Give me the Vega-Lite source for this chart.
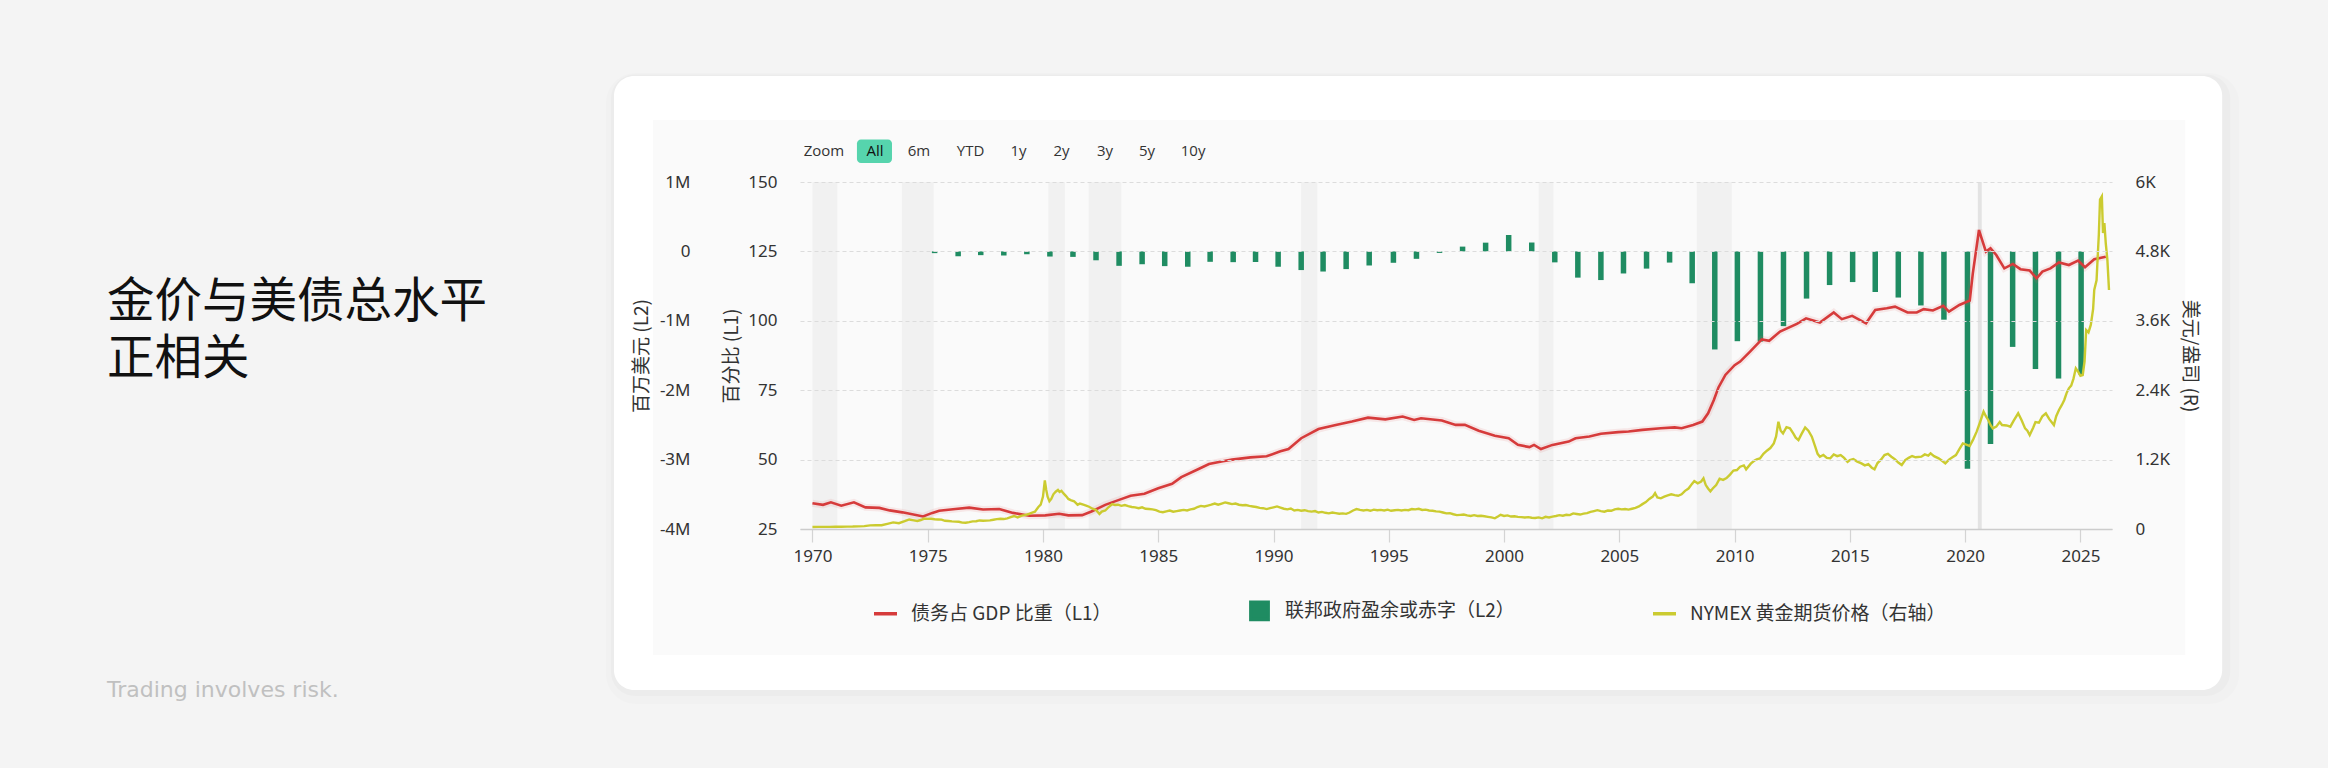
{
  "$schema": "https://vega.github.io/schema/vega-lite/v6.json",
  "width": 1312,
  "height": 347,
  "autosize": {"type": "none"},
  "padding": {"left": 800, "top": 182, "right": 216, "bottom": 239},
  "background": "#f4f4f4",
  "config": {
    "view": {"stroke": null},
    "axis": {
      "labelFont": "Noto Sans",
      "labelFontSize": 17,
      "labelColor": "#333333",
      "titleFont": "Noto Sans CJK SC",
      "titleFontSize": 19,
      "titleFontWeight": "normal",
      "titleColor": "#333333",
      "domain": false,
      "ticks": false,
      "grid": false
    },
    "axisX": {
      "domain": true,
      "domainColor": "#cccccc",
      "domainWidth": 1.5,
      "ticks": true,
      "tickColor": "#d4d4d4",
      "tickSize": 13,
      "tickWidth": 1.2,
      "labelPadding": 6
    },
    "legend": {"zindex": 1}
  },
  "datasets": {
    "recess": [
      {"s": 1970.0, "e": 1971.08},
      {"s": 1973.88, "e": 1975.26},
      {"s": 1980.23, "e": 1980.95},
      {"s": 1981.98, "e": 1983.4},
      {"s": 1991.2, "e": 1991.9},
      {"s": 2001.5, "e": 2002.14},
      {"s": 2008.36, "e": 2009.88},
      {"s": 2020.55, "e": 2020.72}
    ],
    "deficit": [
      {"t": 1975.3, "v": -25000}, {"t": 1976.32, "v": -70000}, {"t": 1977.3, "v": -54000},
      {"t": 1978.3, "v": -59000}, {"t": 1979.3, "v": -41000}, {"t": 1980.3, "v": -74000},
      {"t": 1981.3, "v": -79000}, {"t": 1982.3, "v": -128000}, {"t": 1983.3, "v": -208000},
      {"t": 1984.3, "v": -185000}, {"t": 1985.28, "v": -212000}, {"t": 1986.28, "v": -221000},
      {"t": 1987.25, "v": -150000}, {"t": 1988.25, "v": -155000}, {"t": 1989.22, "v": -153000},
      {"t": 1990.2, "v": -221000}, {"t": 1991.2, "v": -269000}, {"t": 1992.15, "v": -290000},
      {"t": 1993.15, "v": -255000}, {"t": 1994.15, "v": -203000}, {"t": 1995.2, "v": -164000},
      {"t": 1996.2, "v": -107000}, {"t": 1997.2, "v": -22000}, {"t": 1998.2, "v": 69000},
      {"t": 1999.2, "v": 126000}, {"t": 2000.2, "v": 236000}, {"t": 2001.2, "v": 128000},
      {"t": 2002.2, "v": -158000}, {"t": 2003.2, "v": -378000}, {"t": 2004.2, "v": -413000},
      {"t": 2005.18, "v": -318000}, {"t": 2006.18, "v": -248000}, {"t": 2007.18, "v": -161000},
      {"t": 2008.16, "v": -459000}, {"t": 2009.14, "v": -1413000}, {"t": 2010.12, "v": -1294000},
      {"t": 2011.12, "v": -1300000}, {"t": 2012.12, "v": -1077000}, {"t": 2013.12, "v": -680000},
      {"t": 2014.12, "v": -485000}, {"t": 2015.12, "v": -442000}, {"t": 2016.1, "v": -585000},
      {"t": 2017.1, "v": -665000}, {"t": 2018.08, "v": -779000}, {"t": 2019.08, "v": -984000},
      {"t": 2020.1, "v": -3132000}, {"t": 2021.1, "v": -2775000}, {"t": 2022.06, "v": -1376000},
      {"t": 2023.05, "v": -1695000}, {"t": 2024.05, "v": -1832000}, {"t": 2025.03, "v": -1775000}
    ],
    "debt": [
      {"t": 1970.0, "v": 34.3}, {"t": 1970.46, "v": 33.7}, {"t": 1970.8, "v": 34.6}, {"t": 1971.25, "v": 33.4},
      {"t": 1971.8, "v": 34.6}, {"t": 1972.3, "v": 32.8}, {"t": 1972.9, "v": 32.6}, {"t": 1973.35, "v": 31.7},
      {"t": 1973.9, "v": 31.0}, {"t": 1974.8, "v": 29.5}, {"t": 1975.2, "v": 30.8}, {"t": 1975.5, "v": 31.6},
      {"t": 1976.2, "v": 32.2}, {"t": 1976.8, "v": 32.7}, {"t": 1977.4, "v": 32.0}, {"t": 1978.1, "v": 32.2},
      {"t": 1978.7, "v": 30.8}, {"t": 1979.4, "v": 29.8}, {"t": 1980.1, "v": 29.9}, {"t": 1980.7, "v": 30.5},
      {"t": 1981.1, "v": 29.9}, {"t": 1981.7, "v": 30.0}, {"t": 1982.1, "v": 31.3}, {"t": 1982.7, "v": 33.7},
      {"t": 1983.3, "v": 35.5}, {"t": 1983.8, "v": 37.0}, {"t": 1984.4, "v": 37.7}, {"t": 1985.0, "v": 39.7},
      {"t": 1985.6, "v": 41.3}, {"t": 1986.0, "v": 43.7}, {"t": 1986.75, "v": 46.6}, {"t": 1987.2, "v": 48.4},
      {"t": 1987.8, "v": 49.4}, {"t": 1988.2, "v": 50.0}, {"t": 1989.0, "v": 50.8}, {"t": 1989.7, "v": 51.2},
      {"t": 1990.3, "v": 53.0}, {"t": 1990.65, "v": 53.8}, {"t": 1991.2, "v": 57.7}, {"t": 1991.95, "v": 61.0},
      {"t": 1992.7, "v": 62.5}, {"t": 1993.4, "v": 63.7}, {"t": 1994.1, "v": 65.1}, {"t": 1994.85, "v": 64.5},
      {"t": 1995.6, "v": 65.5}, {"t": 1996.1, "v": 64.3}, {"t": 1996.4, "v": 64.9}, {"t": 1997.3, "v": 64.1},
      {"t": 1997.9, "v": 62.5}, {"t": 1998.3, "v": 62.5}, {"t": 1998.9, "v": 60.4}, {"t": 1999.6, "v": 58.6},
      {"t": 2000.2, "v": 57.7}, {"t": 2000.6, "v": 55.3}, {"t": 2001.1, "v": 54.5}, {"t": 2001.3, "v": 55.3},
      {"t": 2001.6, "v": 53.8}, {"t": 2002.1, "v": 55.3}, {"t": 2002.8, "v": 56.5}, {"t": 2003.1, "v": 57.7},
      {"t": 2003.7, "v": 58.3}, {"t": 2004.2, "v": 59.3}, {"t": 2004.95, "v": 59.9}, {"t": 2005.4, "v": 60.1},
      {"t": 2006.0, "v": 60.7}, {"t": 2006.8, "v": 61.3}, {"t": 2007.4, "v": 61.6}, {"t": 2007.7, "v": 61.3},
      {"t": 2008.2, "v": 62.5}, {"t": 2008.6, "v": 63.7}, {"t": 2008.85, "v": 66.7}, {"t": 2009.1, "v": 71.5},
      {"t": 2009.3, "v": 76.0}, {"t": 2009.6, "v": 80.5}, {"t": 2010.0, "v": 84.0}, {"t": 2010.24, "v": 85.3},
      {"t": 2010.67, "v": 88.9}, {"t": 2011.18, "v": 93.3}, {"t": 2011.5, "v": 92.8}, {"t": 2011.97, "v": 96.1},
      {"t": 2012.7, "v": 98.9}, {"t": 2013.1, "v": 100.9}, {"t": 2013.7, "v": 99.4}, {"t": 2014.3, "v": 103.0},
      {"t": 2014.65, "v": 100.6}, {"t": 2015.1, "v": 101.8}, {"t": 2015.7, "v": 99.1}, {"t": 2016.1, "v": 103.9},
      {"t": 2016.6, "v": 104.5}, {"t": 2016.96, "v": 105.1}, {"t": 2017.5, "v": 103.0}, {"t": 2017.9, "v": 103.0},
      {"t": 2018.2, "v": 104.2}, {"t": 2018.6, "v": 103.7}, {"t": 2019.05, "v": 105.4}, {"t": 2019.3, "v": 103.3},
      {"t": 2019.75, "v": 105.7}, {"t": 2020.2, "v": 107.3}, {"t": 2020.33, "v": 116.9}, {"t": 2020.6, "v": 132.7},
      {"t": 2020.9, "v": 124.9}, {"t": 2021.1, "v": 126.1}, {"t": 2021.35, "v": 123.7}, {"t": 2021.7, "v": 118.9},
      {"t": 2022.07, "v": 120.5}, {"t": 2022.4, "v": 118.6}, {"t": 2022.8, "v": 118.1}, {"t": 2023.1, "v": 115.3},
      {"t": 2023.35, "v": 117.7}, {"t": 2023.7, "v": 118.9}, {"t": 2024.07, "v": 121.0}, {"t": 2024.5, "v": 120.1},
      {"t": 2024.9, "v": 121.7}, {"t": 2025.2, "v": 119.3}, {"t": 2025.6, "v": 122.2}, {"t": 2026.1, "v": 123.1}
    ],
    "gold": [
      {"t": 1970.0, "v": 35}, {"t": 1970.25, "v": 36}, {"t": 1970.5, "v": 36}, {"t": 1970.75, "v": 37},
      {"t": 1971.0, "v": 38}, {"t": 1971.25, "v": 40}, {"t": 1971.5, "v": 41}, {"t": 1971.75, "v": 42},
      {"t": 1972.0, "v": 46}, {"t": 1972.25, "v": 49}, {"t": 1972.5, "v": 62}, {"t": 1972.75, "v": 64},
      {"t": 1973.0, "v": 66}, {"t": 1973.25, "v": 90}, {"t": 1973.5, "v": 115}, {"t": 1973.75, "v": 100},
      {"t": 1974.0, "v": 135}, {"t": 1974.2, "v": 165}, {"t": 1974.4, "v": 150}, {"t": 1974.55, "v": 140},
      {"t": 1974.7, "v": 155}, {"t": 1974.85, "v": 180}, {"t": 1975.0, "v": 175}, {"t": 1975.15, "v": 178},
      {"t": 1975.3, "v": 168}, {"t": 1975.45, "v": 165}, {"t": 1975.6, "v": 162}, {"t": 1975.75, "v": 142},
      {"t": 1975.9, "v": 138}, {"t": 1976.05, "v": 132}, {"t": 1976.2, "v": 128}, {"t": 1976.35, "v": 125},
      {"t": 1976.5, "v": 110}, {"t": 1976.65, "v": 108}, {"t": 1976.8, "v": 118}, {"t": 1976.95, "v": 132},
      {"t": 1977.1, "v": 135}, {"t": 1977.25, "v": 148}, {"t": 1977.4, "v": 142}, {"t": 1977.55, "v": 145},
      {"t": 1977.7, "v": 150}, {"t": 1977.85, "v": 160}, {"t": 1978.0, "v": 170}, {"t": 1978.15, "v": 178},
      {"t": 1978.3, "v": 172}, {"t": 1978.45, "v": 185}, {"t": 1978.6, "v": 205}, {"t": 1978.75, "v": 225},
      {"t": 1978.9, "v": 200}, {"t": 1979.05, "v": 228}, {"t": 1979.2, "v": 240}, {"t": 1979.35, "v": 255},
      {"t": 1979.5, "v": 280}, {"t": 1979.65, "v": 300}, {"t": 1979.8, "v": 380}, {"t": 1979.9, "v": 420},
      {"t": 1980.0, "v": 560}, {"t": 1980.08, "v": 840}, {"t": 1980.14, "v": 680}, {"t": 1980.2, "v": 560},
      {"t": 1980.28, "v": 480}, {"t": 1980.36, "v": 520}, {"t": 1980.45, "v": 600}, {"t": 1980.55, "v": 645},
      {"t": 1980.65, "v": 675}, {"t": 1980.72, "v": 640}, {"t": 1980.8, "v": 660}, {"t": 1980.9, "v": 610},
      {"t": 1981.0, "v": 570}, {"t": 1981.1, "v": 520}, {"t": 1981.2, "v": 500}, {"t": 1981.35, "v": 480},
      {"t": 1981.5, "v": 420}, {"t": 1981.6, "v": 440}, {"t": 1981.75, "v": 420}, {"t": 1981.9, "v": 400},
      {"t": 1982.0, "v": 385}, {"t": 1982.15, "v": 350}, {"t": 1982.3, "v": 330}, {"t": 1982.45, "v": 260},
      {"t": 1982.55, "v": 300}, {"t": 1982.7, "v": 320}, {"t": 1982.85, "v": 380}, {"t": 1983.0, "v": 430},
      {"t": 1983.12, "v": 415}, {"t": 1983.25, "v": 420}, {"t": 1983.4, "v": 400}, {"t": 1983.55, "v": 415},
      {"t": 1983.7, "v": 395}, {"t": 1983.85, "v": 380}, {"t": 1984.0, "v": 375}, {"t": 1984.15, "v": 360},
      {"t": 1984.3, "v": 375}, {"t": 1984.45, "v": 350}, {"t": 1984.6, "v": 345}, {"t": 1984.75, "v": 340},
      {"t": 1984.9, "v": 325}, {"t": 1985.05, "v": 300}, {"t": 1985.2, "v": 290}, {"t": 1985.35, "v": 305},
      {"t": 1985.5, "v": 320}, {"t": 1985.65, "v": 300}, {"t": 1985.8, "v": 310}, {"t": 1985.95, "v": 320},
      {"t": 1986.1, "v": 330}, {"t": 1986.25, "v": 320}, {"t": 1986.4, "v": 340}, {"t": 1986.55, "v": 350},
      {"t": 1986.7, "v": 380}, {"t": 1986.85, "v": 400}, {"t": 1987.0, "v": 390}, {"t": 1987.15, "v": 405},
      {"t": 1987.3, "v": 420}, {"t": 1987.45, "v": 440}, {"t": 1987.6, "v": 420}, {"t": 1987.75, "v": 440},
      {"t": 1987.9, "v": 460}, {"t": 1988.05, "v": 445}, {"t": 1988.2, "v": 430}, {"t": 1988.35, "v": 440},
      {"t": 1988.5, "v": 420}, {"t": 1988.65, "v": 410}, {"t": 1988.8, "v": 415}, {"t": 1988.95, "v": 400},
      {"t": 1989.1, "v": 390}, {"t": 1989.25, "v": 380}, {"t": 1989.4, "v": 365}, {"t": 1989.55, "v": 360},
      {"t": 1989.7, "v": 345}, {"t": 1989.85, "v": 360}, {"t": 1990.0, "v": 375}, {"t": 1990.15, "v": 390},
      {"t": 1990.3, "v": 370}, {"t": 1990.45, "v": 350}, {"t": 1990.6, "v": 340}, {"t": 1990.75, "v": 355},
      {"t": 1990.9, "v": 320}, {"t": 1991.05, "v": 330}, {"t": 1991.2, "v": 315}, {"t": 1991.35, "v": 325},
      {"t": 1991.5, "v": 310}, {"t": 1991.65, "v": 300}, {"t": 1991.8, "v": 310}, {"t": 1991.95, "v": 285},
      {"t": 1992.1, "v": 295}, {"t": 1992.25, "v": 280}, {"t": 1992.4, "v": 270}, {"t": 1992.55, "v": 285},
      {"t": 1992.7, "v": 275}, {"t": 1992.85, "v": 265}, {"t": 1993.0, "v": 270}, {"t": 1993.15, "v": 262},
      {"t": 1993.3, "v": 285}, {"t": 1993.45, "v": 320}, {"t": 1993.6, "v": 345}, {"t": 1993.75, "v": 330},
      {"t": 1993.9, "v": 320}, {"t": 1994.05, "v": 330}, {"t": 1994.2, "v": 315}, {"t": 1994.35, "v": 335},
      {"t": 1994.5, "v": 325}, {"t": 1994.65, "v": 330}, {"t": 1994.8, "v": 320}, {"t": 1994.95, "v": 335},
      {"t": 1995.1, "v": 315}, {"t": 1995.25, "v": 325}, {"t": 1995.4, "v": 330}, {"t": 1995.55, "v": 320},
      {"t": 1995.7, "v": 330}, {"t": 1995.85, "v": 325}, {"t": 1996.0, "v": 345}, {"t": 1996.15, "v": 340},
      {"t": 1996.3, "v": 350}, {"t": 1996.45, "v": 330}, {"t": 1996.6, "v": 335}, {"t": 1996.75, "v": 320},
      {"t": 1996.9, "v": 315}, {"t": 1997.05, "v": 305}, {"t": 1997.2, "v": 300}, {"t": 1997.35, "v": 285},
      {"t": 1997.5, "v": 270}, {"t": 1997.65, "v": 275}, {"t": 1997.8, "v": 255}, {"t": 1997.95, "v": 240},
      {"t": 1998.1, "v": 245}, {"t": 1998.25, "v": 250}, {"t": 1998.4, "v": 235}, {"t": 1998.55, "v": 225},
      {"t": 1998.7, "v": 240}, {"t": 1998.85, "v": 225}, {"t": 1999.0, "v": 230}, {"t": 1999.15, "v": 220},
      {"t": 1999.3, "v": 210}, {"t": 1999.45, "v": 200}, {"t": 1999.6, "v": 185}, {"t": 1999.75, "v": 220},
      {"t": 1999.85, "v": 245}, {"t": 2000.0, "v": 225}, {"t": 2000.15, "v": 235}, {"t": 2000.3, "v": 215},
      {"t": 2000.45, "v": 220}, {"t": 2000.6, "v": 210}, {"t": 2000.75, "v": 205}, {"t": 2000.9, "v": 200},
      {"t": 2001.05, "v": 205}, {"t": 2001.2, "v": 195}, {"t": 2001.35, "v": 190}, {"t": 2001.5, "v": 200},
      {"t": 2001.65, "v": 185}, {"t": 2001.8, "v": 210}, {"t": 2001.95, "v": 200}, {"t": 2002.1, "v": 215},
      {"t": 2002.25, "v": 225}, {"t": 2002.4, "v": 240}, {"t": 2002.55, "v": 230}, {"t": 2002.7, "v": 245},
      {"t": 2002.85, "v": 240}, {"t": 2003.0, "v": 270}, {"t": 2003.15, "v": 260}, {"t": 2003.3, "v": 250},
      {"t": 2003.45, "v": 265}, {"t": 2003.6, "v": 275}, {"t": 2003.75, "v": 295}, {"t": 2003.9, "v": 310},
      {"t": 2004.05, "v": 325}, {"t": 2004.2, "v": 310}, {"t": 2004.35, "v": 300}, {"t": 2004.5, "v": 320},
      {"t": 2004.65, "v": 315}, {"t": 2004.8, "v": 340}, {"t": 2004.95, "v": 350}, {"t": 2005.1, "v": 340},
      {"t": 2005.25, "v": 345}, {"t": 2005.4, "v": 335}, {"t": 2005.55, "v": 350}, {"t": 2005.7, "v": 365},
      {"t": 2005.85, "v": 390}, {"t": 2006.0, "v": 430}, {"t": 2006.15, "v": 465}, {"t": 2006.3, "v": 520},
      {"t": 2006.45, "v": 560}, {"t": 2006.55, "v": 620}, {"t": 2006.65, "v": 545}, {"t": 2006.8, "v": 530},
      {"t": 2006.95, "v": 560}, {"t": 2007.1, "v": 580}, {"t": 2007.25, "v": 600}, {"t": 2007.4, "v": 585},
      {"t": 2007.55, "v": 575}, {"t": 2007.7, "v": 600}, {"t": 2007.85, "v": 660}, {"t": 2008.0, "v": 700},
      {"t": 2008.15, "v": 780}, {"t": 2008.25, "v": 830}, {"t": 2008.4, "v": 790}, {"t": 2008.55, "v": 820},
      {"t": 2008.65, "v": 875}, {"t": 2008.75, "v": 760}, {"t": 2008.85, "v": 700}, {"t": 2008.95, "v": 650},
      {"t": 2009.05, "v": 700}, {"t": 2009.2, "v": 760}, {"t": 2009.35, "v": 870}, {"t": 2009.5, "v": 850},
      {"t": 2009.65, "v": 880}, {"t": 2009.8, "v": 940}, {"t": 2009.95, "v": 1010}, {"t": 2010.1, "v": 1020},
      {"t": 2010.24, "v": 1077}, {"t": 2010.4, "v": 1100}, {"t": 2010.5, "v": 1031}, {"t": 2010.7, "v": 1130},
      {"t": 2010.85, "v": 1180}, {"t": 2010.96, "v": 1204}, {"t": 2011.1, "v": 1220}, {"t": 2011.25, "v": 1300},
      {"t": 2011.4, "v": 1354}, {"t": 2011.55, "v": 1400}, {"t": 2011.7, "v": 1481}, {"t": 2011.8, "v": 1600},
      {"t": 2011.9, "v": 1855}, {"t": 2012.0, "v": 1700}, {"t": 2012.1, "v": 1654}, {"t": 2012.25, "v": 1760},
      {"t": 2012.4, "v": 1740}, {"t": 2012.55, "v": 1650}, {"t": 2012.65, "v": 1580}, {"t": 2012.77, "v": 1538},
      {"t": 2012.9, "v": 1640}, {"t": 2013.06, "v": 1757}, {"t": 2013.2, "v": 1700}, {"t": 2013.35, "v": 1596},
      {"t": 2013.5, "v": 1420}, {"t": 2013.6, "v": 1300}, {"t": 2013.7, "v": 1250}, {"t": 2013.85, "v": 1280},
      {"t": 2014.0, "v": 1230}, {"t": 2014.15, "v": 1222}, {"t": 2014.3, "v": 1290}, {"t": 2014.45, "v": 1260},
      {"t": 2014.6, "v": 1279}, {"t": 2014.75, "v": 1230}, {"t": 2014.9, "v": 1160}, {"t": 2015.0, "v": 1192},
      {"t": 2015.15, "v": 1210}, {"t": 2015.3, "v": 1170}, {"t": 2015.5, "v": 1135}, {"t": 2015.65, "v": 1100},
      {"t": 2015.8, "v": 1120}, {"t": 2015.95, "v": 1060}, {"t": 2016.07, "v": 1031}, {"t": 2016.2, "v": 1140},
      {"t": 2016.35, "v": 1200}, {"t": 2016.5, "v": 1279}, {"t": 2016.65, "v": 1300}, {"t": 2016.8, "v": 1250},
      {"t": 2016.96, "v": 1204}, {"t": 2017.1, "v": 1150}, {"t": 2017.25, "v": 1106}, {"t": 2017.4, "v": 1190},
      {"t": 2017.55, "v": 1230}, {"t": 2017.7, "v": 1262}, {"t": 2017.85, "v": 1240}, {"t": 2018.1, "v": 1250},
      {"t": 2018.25, "v": 1290}, {"t": 2018.4, "v": 1270}, {"t": 2018.5, "v": 1308}, {"t": 2018.65, "v": 1260},
      {"t": 2018.85, "v": 1222}, {"t": 2019.0, "v": 1180}, {"t": 2019.14, "v": 1135}, {"t": 2019.3, "v": 1200},
      {"t": 2019.45, "v": 1240}, {"t": 2019.6, "v": 1279}, {"t": 2019.75, "v": 1380}, {"t": 2019.9, "v": 1481},
      {"t": 2020.05, "v": 1460}, {"t": 2020.2, "v": 1435}, {"t": 2020.35, "v": 1550}, {"t": 2020.5, "v": 1683},
      {"t": 2020.65, "v": 1850}, {"t": 2020.8, "v": 2029}, {"t": 2020.9, "v": 1950}, {"t": 2021.0, "v": 1885},
      {"t": 2021.1, "v": 1800}, {"t": 2021.2, "v": 1740}, {"t": 2021.35, "v": 1770}, {"t": 2021.5, "v": 1850},
      {"t": 2021.6, "v": 1798}, {"t": 2021.8, "v": 1790}, {"t": 2021.96, "v": 1769}, {"t": 2022.1, "v": 1870},
      {"t": 2022.3, "v": 2000}, {"t": 2022.45, "v": 1880}, {"t": 2022.6, "v": 1740}, {"t": 2022.7, "v": 1700},
      {"t": 2022.8, "v": 1625}, {"t": 2022.95, "v": 1750}, {"t": 2023.05, "v": 1850}, {"t": 2023.2, "v": 1838},
      {"t": 2023.35, "v": 1950}, {"t": 2023.5, "v": 2000}, {"t": 2023.65, "v": 1900}, {"t": 2023.85, "v": 1798},
      {"t": 2023.95, "v": 1950}, {"t": 2024.07, "v": 2058}, {"t": 2024.2, "v": 2150}, {"t": 2024.3, "v": 2231},
      {"t": 2024.4, "v": 2350}, {"t": 2024.5, "v": 2433}, {"t": 2024.6, "v": 2480}, {"t": 2024.7, "v": 2600},
      {"t": 2024.8, "v": 2778}, {"t": 2024.9, "v": 2720}, {"t": 2025.0, "v": 2650}, {"t": 2025.1, "v": 2663},
      {"t": 2025.18, "v": 2900}, {"t": 2025.25, "v": 3441}, {"t": 2025.35, "v": 3400}, {"t": 2025.45, "v": 3528},
      {"t": 2025.55, "v": 3800}, {"t": 2025.6, "v": 4133}, {"t": 2025.7, "v": 4300}, {"t": 2025.75, "v": 4710},
      {"t": 2025.8, "v": 5100}, {"t": 2025.85, "v": 5694}, {"t": 2025.93, "v": 5752}, {"t": 2025.98, "v": 5118},
      {"t": 2026.04, "v": 5291}, {"t": 2026.1, "v": 4940}, {"t": 2026.17, "v": 4652}, {"t": 2026.24, "v": 4133}
    ]
  },
  "layer": [
    {
      "data": {"values": [{}]},
      "layer": [
        {
          "mark": {"type": "rect", "color": "#000000", "opacity": 0.012, "cornerRadius": 30},
          "encoding": {
            "x": {"datum": 1961.04, "type": "quantitative", "scale": {"domain": [1969.46, 2026.37], "nice": false, "zero": false, "padding": 0}, "title": null, "axis": {"zindex": 1}},
            "x2": {"datum": 2031.89},
            "y": {"datum": 189.27, "type": "quantitative", "scale": {"domain": [25, 150], "nice": false, "zero": false}, "axis": null},
            "y2": {"datum": -38.0}
          }
        },
        {
          "mark": {"type": "rect", "color": "#000000", "opacity": 0.018, "cornerRadius": 24},
          "encoding": {
            "x": {"datum": 1961.26, "type": "quantitative", "scale": {"domain": [1969.46, 2026.37], "nice": false, "zero": false, "padding": 0}, "title": null, "axis": {"zindex": 1}},
            "x2": {"datum": 2031.5},
            "y": {"datum": 188.72, "type": "quantitative", "scale": {"domain": [25, 150], "nice": false, "zero": false}, "axis": null},
            "y2": {"datum": -35.2}
          }
        },
        {
          "mark": {"type": "rect", "color": "#ffffff", "cornerRadius": 20},
          "encoding": {
            "x": {"datum": 1961.39, "type": "quantitative", "scale": {"domain": [1969.46, 2026.37], "nice": false, "zero": false, "padding": 0}, "title": null, "axis": {"zindex": 1}},
            "x2": {"datum": 2031.15},
            "y": {"datum": 188.18, "type": "quantitative", "scale": {"domain": [25, 150], "nice": false, "zero": false}, "axis": null},
            "y2": {"datum": -33.0}
          }
        },
        {
          "mark": {"type": "rect", "color": "#fafafa"},
          "encoding": {
            "x": {"datum": 1963.08, "type": "quantitative", "scale": {"domain": [1969.46, 2026.37], "nice": false, "zero": false, "padding": 0}, "title": null, "axis": {"zindex": 1}},
            "x2": {"datum": 2029.55},
            "y": {"datum": 172.33, "type": "quantitative", "scale": {"domain": [25, 150], "nice": false, "zero": false}, "axis": null},
            "y2": {"datum": -20.39}
          }
        },
        {
          "data": {"name": "recess"},
          "transform": [{"filter": "datum.s < 2020"}],
          "mark": {"type": "rect", "color": "#f1f1f1"},
          "encoding": {
            "x": {"field": "s", "type": "quantitative", "scale": {"domain": [1969.46, 2026.37], "nice": false, "zero": false, "padding": 0}, "title": null, "axis": {"zindex": 1}},
            "x2": {"field": "e"},
            "y": {"datum": 150, "type": "quantitative", "scale": {"domain": [25, 150], "nice": false, "zero": false}, "axis": null},
            "y2": {"datum": 25}
          }
        },
        {
          "data": {"name": "recess"},
          "transform": [{"filter": "datum.s > 2020"}],
          "mark": {"type": "rect", "color": "#e3e3e3"},
          "encoding": {
            "x": {"field": "s", "type": "quantitative", "scale": {"domain": [1969.46, 2026.37], "nice": false, "zero": false, "padding": 0}, "title": null, "axis": {"zindex": 1}},
            "x2": {"field": "e"},
            "y": {"datum": 150, "type": "quantitative", "scale": {"domain": [25, 150], "nice": false, "zero": false}, "axis": null},
            "y2": {"datum": 25}
          }
        },
        {
          "mark": {"type": "rect", "color": "#56d4ad", "cornerRadius": 4},
          "encoding": {
            "x": {"datum": 1971.93, "type": "quantitative", "scale": {"domain": [1969.46, 2026.37], "nice": false, "zero": false, "padding": 0}, "title": null, "axis": {"zindex": 1}},
            "x2": {"datum": 1973.45},
            "y": {"datum": 165.31, "type": "quantitative", "scale": {"domain": [25, 150], "nice": false, "zero": false}, "axis": null},
            "y2": {"datum": 156.84}
          }
        },
        {
          "mark": {"type": "text", "text": "Zoom", "font": "Open Sans", "fontSize": 15, "color": "#333333", "align": "center", "baseline": "middle"},
          "encoding": {
            "x": {"datum": 1970.5, "type": "quantitative", "scale": {"domain": [1969.46, 2026.37], "nice": false, "zero": false, "padding": 0}, "title": null, "axis": {"zindex": 1}},
            "y": {"datum": 161.17, "type": "quantitative", "scale": {"domain": [25, 150], "nice": false, "zero": false}, "axis": null}
          }
        },
        {
          "mark": {"type": "text", "text": "All", "font": "Open Sans", "fontSize": 15, "color": "#111111", "align": "center", "baseline": "middle"},
          "encoding": {
            "x": {"datum": 1972.71, "type": "quantitative", "scale": {"domain": [1969.46, 2026.37], "nice": false, "zero": false, "padding": 0}, "title": null, "axis": {"zindex": 1}},
            "y": {"datum": 161.17, "type": "quantitative", "scale": {"domain": [25, 150], "nice": false, "zero": false}, "axis": null}
          }
        },
        {
          "mark": {"type": "text", "text": "6m", "font": "Open Sans", "fontSize": 15, "color": "#333333", "align": "center", "baseline": "middle"},
          "encoding": {
            "x": {"datum": 1974.62, "type": "quantitative", "scale": {"domain": [1969.46, 2026.37], "nice": false, "zero": false, "padding": 0}, "title": null, "axis": {"zindex": 1}},
            "y": {"datum": 161.17, "type": "quantitative", "scale": {"domain": [25, 150], "nice": false, "zero": false}, "axis": null}
          }
        },
        {
          "mark": {"type": "text", "text": "YTD", "font": "Open Sans", "fontSize": 15, "color": "#333333", "align": "center", "baseline": "middle"},
          "encoding": {
            "x": {"datum": 1976.86, "type": "quantitative", "scale": {"domain": [1969.46, 2026.37], "nice": false, "zero": false, "padding": 0}, "title": null, "axis": {"zindex": 1}},
            "y": {"datum": 161.17, "type": "quantitative", "scale": {"domain": [25, 150], "nice": false, "zero": false}, "axis": null}
          }
        },
        {
          "mark": {"type": "text", "text": "1y", "font": "Open Sans", "fontSize": 15, "color": "#333333", "align": "center", "baseline": "middle"},
          "encoding": {
            "x": {"datum": 1978.94, "type": "quantitative", "scale": {"domain": [1969.46, 2026.37], "nice": false, "zero": false, "padding": 0}, "title": null, "axis": {"zindex": 1}},
            "y": {"datum": 161.17, "type": "quantitative", "scale": {"domain": [25, 150], "nice": false, "zero": false}, "axis": null}
          }
        },
        {
          "mark": {"type": "text", "text": "2y", "font": "Open Sans", "fontSize": 15, "color": "#333333", "align": "center", "baseline": "middle"},
          "encoding": {
            "x": {"datum": 1980.8, "type": "quantitative", "scale": {"domain": [1969.46, 2026.37], "nice": false, "zero": false, "padding": 0}, "title": null, "axis": {"zindex": 1}},
            "y": {"datum": 161.17, "type": "quantitative", "scale": {"domain": [25, 150], "nice": false, "zero": false}, "axis": null}
          }
        },
        {
          "mark": {"type": "text", "text": "3y", "font": "Open Sans", "fontSize": 15, "color": "#333333", "align": "center", "baseline": "middle"},
          "encoding": {
            "x": {"datum": 1982.69, "type": "quantitative", "scale": {"domain": [1969.46, 2026.37], "nice": false, "zero": false, "padding": 0}, "title": null, "axis": {"zindex": 1}},
            "y": {"datum": 161.17, "type": "quantitative", "scale": {"domain": [25, 150], "nice": false, "zero": false}, "axis": null}
          }
        },
        {
          "mark": {"type": "text", "text": "5y", "font": "Open Sans", "fontSize": 15, "color": "#333333", "align": "center", "baseline": "middle"},
          "encoding": {
            "x": {"datum": 1984.51, "type": "quantitative", "scale": {"domain": [1969.46, 2026.37], "nice": false, "zero": false, "padding": 0}, "title": null, "axis": {"zindex": 1}},
            "y": {"datum": 161.17, "type": "quantitative", "scale": {"domain": [25, 150], "nice": false, "zero": false}, "axis": null}
          }
        },
        {
          "mark": {"type": "text", "text": "10y", "font": "Open Sans", "fontSize": 15, "color": "#333333", "align": "center", "baseline": "middle"},
          "encoding": {
            "x": {"datum": 1986.51, "type": "quantitative", "scale": {"domain": [1969.46, 2026.37], "nice": false, "zero": false, "padding": 0}, "title": null, "axis": {"zindex": 1}},
            "y": {"datum": 161.17, "type": "quantitative", "scale": {"domain": [25, 150], "nice": false, "zero": false}, "axis": null}
          }
        },
        {
          "mark": {"type": "text", "text": ["金价与美债总水平", "正相关"], "font": "Noto Sans CJK SC", "fontSize": 47.5, "lineHeight": 57, "color": "#111111", "align": "left", "baseline": "top"},
          "encoding": {
            "x": {"datum": 1939.4, "type": "quantitative", "scale": {"domain": [1969.46, 2026.37], "nice": false, "zero": false, "padding": 0}, "title": null, "axis": {"zindex": 1}},
            "y": {"datum": 115.17, "type": "quantitative", "scale": {"domain": [25, 150], "nice": false, "zero": false}, "axis": null}
          }
        },
        {
          "mark": {"type": "text", "text": "Trading involves risk.", "font": "DejaVu Sans", "fontSize": 22, "color": "#c0c0c0", "align": "left", "baseline": "middle"},
          "encoding": {
            "x": {"datum": 1939.4, "type": "quantitative", "scale": {"domain": [1969.46, 2026.37], "nice": false, "zero": false, "padding": 0}, "title": null, "axis": {"zindex": 1}},
            "y": {"datum": -33.0, "type": "quantitative", "scale": {"domain": [25, 150], "nice": false, "zero": false}, "axis": null}
          }
        }
      ]
    },
    {
      "data": {"name": "deficit"},
      "mark": {"type": "bar", "width": 5.5},
      "encoding": {
        "x": {
          "field": "t",
          "type": "quantitative",
          "scale": {"domain": [1969.46, 2026.37], "nice": false, "zero": false, "padding": 0},
          "title": null,
          "axis": {
            "zindex": 1,
            "values": [1970, 1975, 1980, 1985, 1990, 1995, 2000, 2005, 2010, 2015, 2020, 2025],
            "format": "d",
            "domain": true,
            "domainColor": "#cccccc",
            "domainWidth": 1.5,
            "ticks": true,
            "tickColor": "#d4d4d4",
            "tickSize": 13,
            "tickWidth": 1.2,
            "labelPadding": 6
          }
        },
        "y": {
          "field": "v",
          "type": "quantitative",
          "scale": {"domain": [-4000000, 1000000], "nice": false, "zero": false},
          "axis": {
            "zindex": 1,
            "orient": "left",
            "offset": 100,
            "labelPadding": 10,
            "values": [-4000000, -3000000, -2000000, -1000000, 0, 1000000],
            "labelExpr": "datum.value == 0 ? '0' : (datum.value / 1000000) + 'M'",
            "title": "百万美元 (L2)",
            "titlePadding": 8
          }
        },
        "y2": {"datum": 0},
        "color": {
          "datum": "联邦政府盈余或赤字（L2）",
          "scale": {
            "domain": ["债务占 GDP 比重（L1）", "联邦政府盈余或赤字（L2）", "NYMEX 黄金期货价格（右轴）"],
            "range": ["#d63b3b", "#1f8c62", "#cbcb30"]
          },
          "legend": {
            "orient": "none",
            "legendX": 72,
            "legendY": 415,
            "direction": "horizontal",
            "title": null,
            "padding": 0,
            "symbolType": "stroke",
            "symbolSize": 529,
            "symbolStrokeWidth": 3.5,
            "labelFont": "Noto Sans CJK SC",
            "labelFontSize": 19,
            "labelColor": "#333333",
            "labelOffset": 12,
            "labelLimit": 0,
            "columnPadding": 131,
            "encode": {
              "symbols": {
                "update": {
                  "shape": {"signal": "datum.value == '联邦政府盈余或赤字（L2）' ? 'square' : 'stroke'"},
                  "size": {"signal": "datum.value == '联邦政府盈余或赤字（L2）' ? 300 : 529"},
                  "fill": {"signal": "datum.value == '联邦政府盈余或赤字（L2）' ? '#1f8c62' : 'transparent'"},
                  "stroke": {"signal": "datum.value == '联邦政府盈余或赤字（L2）' ? '#1f8c62' : (datum.value == '债务占 GDP 比重（L1）' ? '#d63b3b' : '#d8d878')"},
                  "strokeWidth": {"value": 3.5},
                  "opacity": {"value": 1}
                }
              }
            }
          }
        }
      }
    },
    {
      "data": {"name": "debt"},
      "mark": {"type": "line", "color": "#e06060", "strokeWidth": 7, "opacity": 0.12},
      "encoding": {
        "x": {"field": "t", "type": "quantitative", "scale": {"domain": [1969.46, 2026.37], "nice": false, "zero": false, "padding": 0}, "title": null, "axis": {"zindex": 1}},
        "y": {"field": "v", "type": "quantitative", "scale": {"domain": [25, 150], "nice": false, "zero": false}, "axis": null}
      }
    },
    {
      "data": {"name": "debt"},
      "mark": {"type": "line", "strokeWidth": 2.6},
      "encoding": {
        "x": {"field": "t", "type": "quantitative", "scale": {"domain": [1969.46, 2026.37], "nice": false, "zero": false, "padding": 0}, "title": null, "axis": {"zindex": 1}},
        "y": {
          "field": "v",
          "type": "quantitative",
          "scale": {"domain": [25, 150], "nice": false, "zero": false},
          "axis": {
            "zindex": 1,
            "orient": "left",
            "values": [25, 50, 75, 100, 125, 150],
            "grid": true,
            "gridColor": "#dcdcdc",
            "gridDash": [4, 3],
            "gridWidth": 1,
            "labelPadding": 23,
            "title": "百分比 (L1)",
            "titlePadding": 6
          }
        },
        "color": {
          "datum": "债务占 GDP 比重（L1）",
          "scale": {
            "domain": ["债务占 GDP 比重（L1）", "联邦政府盈余或赤字（L2）", "NYMEX 黄金期货价格（右轴）"],
            "range": ["#d63b3b", "#1f8c62", "#cbcb30"]
          }
        }
      }
    },
    {
      "data": {"name": "gold"},
      "mark": {"type": "line", "strokeWidth": 2.4},
      "encoding": {
        "x": {"field": "t", "type": "quantitative", "scale": {"domain": [1969.46, 2026.37], "nice": false, "zero": false, "padding": 0}, "title": null, "axis": {"zindex": 1}},
        "y": {
          "field": "v",
          "type": "quantitative",
          "scale": {"domain": [0, 6000], "nice": false, "zero": false},
          "axis": {
            "zindex": 1,
            "orient": "right",
            "values": [0, 1200, 2400, 3600, 4800, 6000],
            "labelExpr": "datum.value == 0 ? '0' : (datum.value / 1000) + 'K'",
            "labelPadding": 23,
            "title": "美元/盎司 (R)",
            "titlePadding": 10
          }
        },
        "color": {
          "datum": "NYMEX 黄金期货价格（右轴）",
          "scale": {
            "domain": ["债务占 GDP 比重（L1）", "联邦政府盈余或赤字（L2）", "NYMEX 黄金期货价格（右轴）"],
            "range": ["#d63b3b", "#1f8c62", "#cbcb30"]
          }
        }
      }
    }
  ],
  "resolve": {"scale": {"y": "independent"}}
}
